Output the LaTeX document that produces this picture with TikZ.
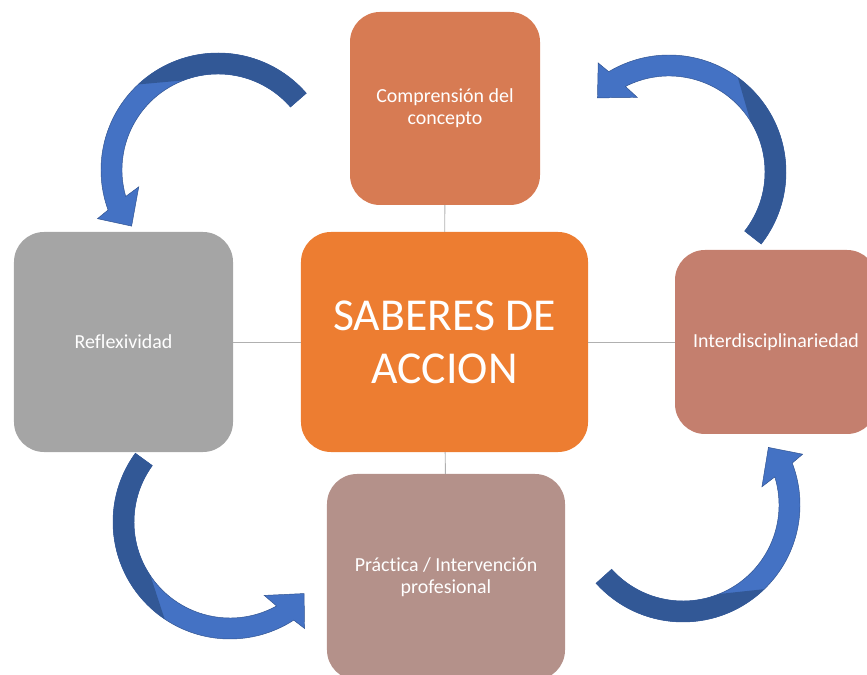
\documentclass[tikz,border=0pt]{standalone}
\usepackage{fontspec}
\setmainfont{Carlito}[Ligatures=NoCommon]
\usetikzlibrary{calc}
\definecolor{conceptcol}{HTML}{D77B53}
\definecolor{centercol}{HTML}{ED7D31}
\definecolor{reflexcol}{HTML}{A5A5A5}
\definecolor{interdcol}{HTML}{C47F6E}
\definecolor{practcol}{HTML}{B4918A}
\definecolor{linegray}{HTML}{B0B0B0}
\definecolor{arrowblue}{HTML}{4472C4}
\definecolor{arrownavy}{HTML}{325896}
\definecolor{arrowline}{HTML}{2F528F}
\tikzstyle{box} = [rectangle, rounded corners=0.9cm, align=center, text=white, inner sep=0pt]
\tikzstyle{smalltext} = [font=\fontsize{17}{19}\selectfont]
\tikzstyle{bigtext} = [font=\fontsize{39}{45}\selectfont]
\tikzstyle{link} = [draw=linegray, line width=0.8pt]
\tikzstyle{arrowlight} = [fill=arrowblue, draw=arrowline, line width=0.4pt]
\tikzstyle{arrowdark} = [fill=arrownavy]
% #1 = centre of the bend, #2 = angle of the tail
\newcommand{\bendarrow}[2]{
  \filldraw [arrowlight] ($(#1)+(#2:117)$) arc[start angle=#2, end angle=#2+159, radius=117]
    -- ($(#1)+(#2+161:130)$) -- ($(#1)+(#2+172:103)$) -- ($(#1)+(#2+151:81)$)
    -- ($(#1)+(#2+155:96)$) arc[start angle=#2+155, end angle=#2, radius=96] -- cycle;
  \fill [arrowdark] ($(#1)+(#2:117)$) arc[start angle=#2, end angle=#2+92, radius=117]
    -- ($(#1)+(#2+70:96)$) arc[start angle=#2+70, end angle=#2, radius=96] -- cycle;
}

\begin{document}
\begin{tikzpicture}[x=0.03cm, y=0.03cm]
\clip (0,0) rectangle (867,675);
% Boxes round the centre
\node (saberes) [box, bigtext, fill=centercol, minimum width=8.61cm, minimum height=6.6cm] at (444.5,333) {SABERES DE\\ACCION};
\node (concepto) [box, smalltext, fill=conceptcol, minimum width=5.7cm, minimum height=5.79cm] at (445,566.5) {Comprensión del\\concepto};
\node (reflex) [box, smalltext, fill=reflexcol, minimum width=6.57cm, minimum height=6.6cm] at (123.5,333) {Reflexividad};
\node (interd) [box, smalltext, fill=interdcol, minimum width=6.06cm, minimum height=5.52cm] at (776,333) {Interdisciplinariedad};
\node (practica) [box, smalltext, fill=practcol, minimum width=7.14cm, minimum height=6.18cm] at (446,98) {Práctica / Intervención\\profesional};

% Thin links to the centre
\draw [link] (saberes) -- (concepto);
\draw [link] (saberes) -- (reflex);
\draw [link] (saberes) -- (interd);
\draw [link] (saberes) -- (practica);

% Curved block arrows
\coordinate (bendtl) at (218,505);
\coordinate (bendtr) at (669,503);
\coordinate (bendbl) at (230,153);
\coordinate (bendbr) at (683,170);
\bendarrow{bendtl}{41}
\bendarrow{bendtr}{-38}
\bendarrow{bendbl}{144}
\bendarrow{bendbr}{222}
\end{tikzpicture}
\end{document}
